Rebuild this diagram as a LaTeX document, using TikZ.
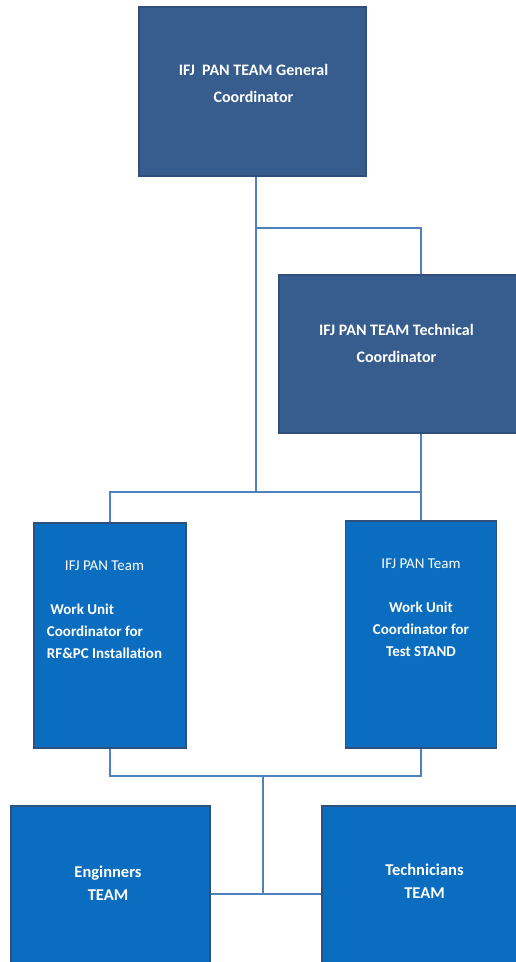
\documentclass[tikz,border=0pt]{standalone}
\usepackage{fontspec}
\setmainfont{Carlito}
\usetikzlibrary{positioning}
\definecolor{topblue}{HTML}{365D8D}
\definecolor{unitblue}{HTML}{0A6DBF}
\definecolor{rimblue}{HTML}{2F4F7C}
\definecolor{wireblue}{HTML}{4F81BD}
\tikzset{
  box/.style={draw=rimblue, line width=1.3pt, inner sep=0pt},
  topbox/.style={box, fill=topblue},
  unitbox/.style={box, fill=unitblue},
  txt/.style={text=white, inner sep=0pt, align=center, font=\fontsize{16}{27}\selectfont\bfseries},
  small/.style={text=white, inner sep=0pt, font=\fontsize{15}{22}\selectfont},
  wire/.style={draw=wireblue, line width=2.6pt}
}

\begin{document}
\begin{tikzpicture}[x=1pt,y=-1pt]
\useasboundingbox (0,0) rectangle (515,962);
\node[topbox, minimum width=227pt, minimum height=169pt] (GC) at (252.5,91.5) {};
\node[topbox, minimum width=240pt, minimum height=158pt] (TC) at (399,354) {};
\node[unitbox, minimum width=152pt, minimum height=225pt] (WL) at (110,635.5) {};
\node[unitbox, minimum width=151pt, minimum height=227pt] (WR) at (421,634.5) {};
\node[unitbox, minimum width=199pt, minimum height=160pt] (EN) at (110.5,886) {};
\node[unitbox, minimum width=197pt, minimum height=160pt] (TE) at (420.5,886) {};
\node[txt] (GCt) at (253.5,83) {IFJ\ \ PAN TEAM General\\Coordinator};
\node[txt] (TCt) at (396.5,343.5) {IFJ PAN TEAM Technical\\Coordinator};
\node[small] (WLt) at (104.5,610) {\begin{tabular}{@{}l@{}}
\multicolumn{1}{@{}c@{}}{IFJ PAN Team}\\[22pt]
\bfseries\ Work Unit\\
\bfseries Coordinator for\\
\bfseries RF\&PC Installation
\end{tabular}};
\node[small] (WRt) at (421,608) {\begin{tabular}{@{}c@{}}
IFJ PAN Team\\[22pt]
\bfseries Work Unit\\
\bfseries Coordinator for\\
\bfseries Test STAND
\end{tabular}};
\node[txt, font=\fontsize{16.5}{23}\selectfont\bfseries] (ENt) at (108,883.5) {Enginners\\TEAM};
\node[txt, font=\fontsize{16.5}{23}\selectfont\bfseries] (TEt) at (424.5,881.5) {Technicians\\TEAM};
\coordinate (J1) at (256,228);
\coordinate (J2) at (256,492);
\coordinate (J3) at (263,776);
\coordinate (J4) at (263,894);
% trunk and branches
\draw[wire] (GC.south -| J1) -- (J2);
\draw[wire] (J1) -| (WR |- TC.north);
\draw[wire] (WR |- TC.south) -- (WR.north);
\draw[wire] (WL.north) |- (WR |- J2);
\draw[wire] (WL.south) |- (J3) -| (WR.south);
\draw[wire] (J3) -- (J4);
\draw[wire] (EN.east |- J4) -- (TE.west |- J4);
\end{tikzpicture}
\end{document}
